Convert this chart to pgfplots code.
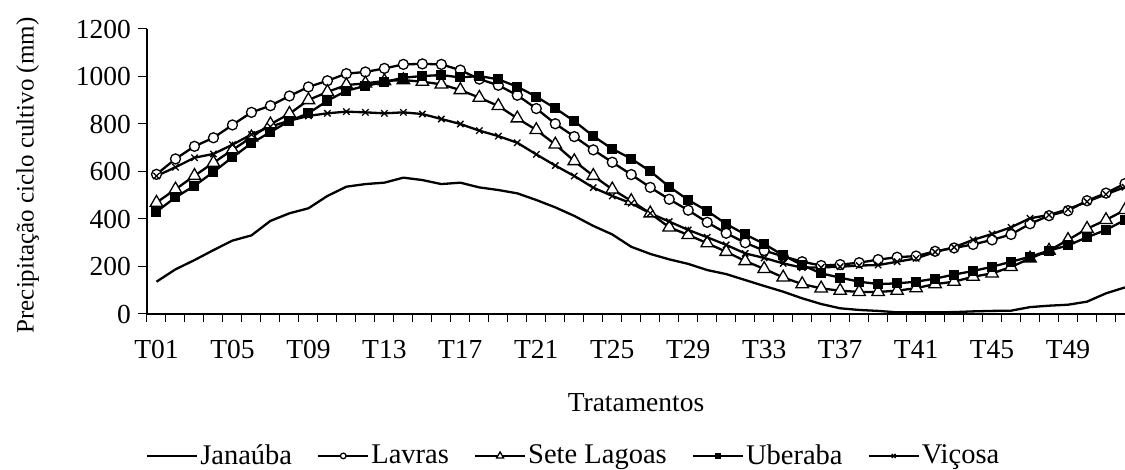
\documentclass[border=0pt]{standalone}
\usepackage{pgfplots}
\pgfplotsset{compat=1.18}
\usepackage{pgfplotstable}
\usepackage{fontspec}
\setmainfont{Liberation Serif}
\pgfplotstableread{
x J L S U V
1 136 588 469 431 581
2 188 653 525 491 618
3 227 706 582 540 658
4 269 742 637 598 674
5 309 796 691 660 713
6 331 849 744 719 756
7 392 877 799 766 789
8 424 918 843 813 814
9 445 956 901 845 834
10 497 982 935 898 845
11 536 1012 964 940 852
12 547 1019 971 960 849
13 553 1034 981 977 845
14 574 1051 985 995 849
15 564 1053 978 1002 842
16 547 1051 967 1006 821
17 553 1027 943 996 800
18 533 989 911 1002 772
19 522 963 876 988 749
20 508 921 824 957 721
21 480 865 775 915 672
22 449 801 714 866 625
23 413 747 644 812 581
24 371 691 582 749 532
25 335 639 525 695 497
26 283 587 476 654 466
27 253 533 424 601 424
28 230 483 365 536 389
29 211 437 333 480 354
30 185 386 298 434 323
31 168 340 262 379 291
32 143 300 223 335 255
33 118 267 190 295 236
34 94 243 154 247 213
35 66 220 126 206 195
36 42 204 108 171 196
37 24 208 98 153 199
38 17 216 93 136 204
39 13 229 93 126 206
40 7 239 98 129 220
41 7 244 109 136 234
42 7 264 126 149 261
43 8 278 136 166 281
44 11 293 157 181 312
45 13 312 171 199 337
46 14 335 198 220 365
47 29 380 234 241 403
48 35 414 267 267 417
49 39 435 312 289 441
50 52 477 359 323 473
51 87 509 396 354 504
52 112 549 438 396 534
}\data
\begin{document}
\begin{tikzpicture}[font=\fontsize{13.75}{16.5}\selectfont]
\begin{axis}[
  scale only axis, width=489pt, height=142.5pt,
  xmin=0.5, xmax=52, ymin=0, ymax=1200,
  axis x line*=bottom, axis y line*=left,
  axis line style={line width=0.7pt, black},
  ytick={0,200,...,1200},
  tick align=outside, major tick length=4.5pt, minor tick length=4pt,
  xtick={1,5,...,49},
  xticklabels={T01,T05,T09,T13,T17,T21,T25,T29,T33,T37,T41,T45,T49},
  xticklabel style={yshift=-5pt},
  minor xtick={0.5,1.5,...,51.5},
  tick style={black, line width=0.5pt},
  major x tick style={draw=none},
  /pgf/number format/assume math mode=true,
  /pgf/number format/1000 sep={},
  xlabel={Tratamentos},
  ylabel={Precipitação ciclo cultivo (mm)},
  every axis x label/.style={at={(rel axis cs:0.5,0)}, yshift=-44.5pt, anchor=center},
  every axis y label/.style={at={(rel axis cs:0,0.5)}, xshift=-59.75pt, yshift=-2pt, rotate=90, anchor=center, font=\fontsize{12.5}{15}\selectfont},
  legend columns=-1,
  legend style={draw=none, fill=none, inner sep=0pt, outer sep=0pt,
    at={(-0.001,-0.498)}, anchor=west,
    font=\fontsize{14.25}{17}\selectfont,
    nodes={inner sep=1pt},
    /tikz/every even column/.append style={column sep=11.5pt}},
  legend image code/.code={\draw[mark repeat=2,mark phase=2,#1] plot coordinates {(0pt,0pt) (12.5pt,0pt) (25pt,0pt)};},
  every axis plot/.append style={line width=1.15pt, black},
]
\coordinate (O) at (rel axis cs:0,0);
\addplot[no marks] table[x=x,y=J] {\data};
\addlegendentry{Janaúba}
\addplot[mark=*, mark size=2.5pt, mark options={fill=white, line width=0.65pt}, legend image post style={mark size=1.4pt}] table[x=x,y=L] {\data};
\addlegendentry{Lavras}
\addplot[mark=triangle*, mark size=3.6pt, mark options={fill=white, line width=0.65pt}, legend image post style={mark size=2pt}] table[x=x,y=S] {\data};
\addlegendentry{Sete Lagoas}
\addplot[mark=square*, mark size=2.25pt, mark options={fill=black, line width=0.5pt}, legend image post style={mark size=1.4pt}] table[x=x,y=U] {\data};
\addlegendentry{Uberaba}
\addplot[mark=x, mark size=2.25pt, mark options={line width=0.65pt}, legend image post style={mark size=1.4pt}] table[x=x,y=V] {\data};
\addlegendentry{Viçosa}
\end{axis}
\pgfresetboundingbox
\path (O) ++(-73.5pt,-78pt) rectangle ++(562.5pt,235pt);
\end{tikzpicture}
\end{document}
